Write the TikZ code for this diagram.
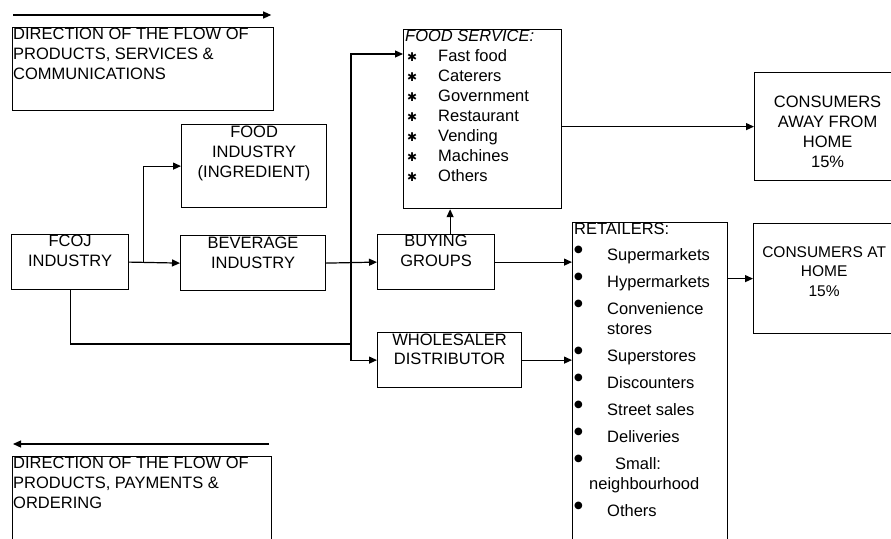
\documentclass[tikz,border=0pt]{standalone}
\usepackage{fontspec}
\setmainfont{Liberation Sans}
\newfontfamily\symfont{DejaVu Sans}
\usetikzlibrary{positioning,arrows.meta}

% list marks for the two outlet boxes
\newcommand{\starbul}{\hspace*{2pt}\makebox[31pt][l]{\raisebox{0.5pt}{\symfont\fontsize{12}{12}\selectfont ✱}}}
\newcommand{\dotbul}{\makebox[33pt][l]{\raisebox{8pt}{\symfont\fontsize{10}{10}\selectfont ●}}}

\begin{document}
\begin{tikzpicture}[x=1pt, y=-1pt,
    stage/.style={draw, line width=1.2pt, anchor=north west, inner sep=0pt},
    txt/.style={inner sep=0pt, align=center, anchor=north,
      font=\fontsize{16.5}{20}\selectfont},
    flow/.style={line width=1.2pt, -{Triangle[length=8pt,width=7pt]}},
    link/.style={line width=1.2pt}]

  \useasboundingbox (0,0) rectangle (891,538);
  \clip (0,0) rectangle (891,538);

  % keys
  \node[stage, minimum width=261pt, minimum height=83pt] (fwdkey) at (12,27) {};
  \node[txt, align=left, anchor=north west] (fwdtxt) at (13,28)
    {DIRECTION OF THE FLOW OF\\PRODUCTS, SERVICES \&\\COMMUNICATIONS};
  \draw[flow] ([yshift=12pt,xshift=1pt]fwdkey.north west)
    -- ([yshift=12pt,xshift=-3pt]fwdkey.north east);

  \node[stage, minimum width=259pt, minimum height=100pt] (backkey) at (12,456) {};
  \node[txt, align=left, anchor=north west] (backtxt) at (13,457)
    {DIRECTION OF THE FLOW OF\\PRODUCTS, PAYMENTS \&\\ORDERING};
  \draw[flow] ([yshift=12pt,xshift=-3pt]backkey.north east)
    -- ([yshift=12pt,xshift=1pt]backkey.north west);

  % processors
  \node[stage, minimum width=117pt, minimum height=55pt] (fcoj) at (11,234) {};
  \node[txt, below=1pt of fcoj.north] (fcojtxt) {FCOJ\\INDUSTRY};

  \node[stage, minimum width=145pt, minimum height=83pt] (foodind) at (181,124) {};
  \node[txt, below=2pt of foodind.north] (foodindtxt) {FOOD\\INDUSTRY\\(INGREDIENT)};

  \node[stage, minimum width=145pt, minimum height=55pt] (beverage) at (180,235) {};
  \node[txt, below=2pt of beverage.north] (beveragetxt) {BEVERAGE\\INDUSTRY};

  \node[stage, minimum width=117pt, minimum height=55pt] (buying) at (377,234) {};
  \node[txt, below=1pt of buying.north] (buyingtxt) {BUYING\\GROUPS};

  \node[stage, minimum width=144pt, minimum height=55pt] (wholesaler) at (377,332) {};
  \node[txt, below=2pt of wholesaler.north, font=\fontsize{16.5}{18.5}\selectfont]
    (wholesalertxt) {WHOLESALER\\DISTRIBUTOR};

  % outlets
  \node[stage, minimum width=158pt, minimum height=179pt] (foodserv) at (403,29) {};
  \node[txt, align=left, anchor=north west] (foodservtxt) at (405,30)
    {{\itshape FOOD SERVICE:}\\
     \starbul Fast food\\
     \starbul Caterers\\
     \starbul Government\\
     \starbul Restaurant\\
     \starbul Vending\\
     \starbul Machines\\
     \starbul Others};

  \node[stage, minimum width=155pt, minimum height=340pt] (retail) at (572,222) {};
  \node[txt, align=left, anchor=north west] (retailtxt) at (574,223)
    {RETAILERS:\\[6pt]
     \dotbul Supermarkets\\[7pt]
     \dotbul Hypermarkets\\[7pt]
     \dotbul Convenience\\
     \hspace*{33pt}stores\\[7pt]
     \dotbul Superstores\\[7pt]
     \dotbul Discounters\\[7pt]
     \dotbul Street sales\\[7pt]
     \dotbul Deliveries\\[7pt]
     \dotbul\hspace*{8pt}Small:\\
     \hspace*{15pt}neighbourhood\\[7pt]
     \dotbul Others};

  % consumers
  \node[stage, minimum width=146pt, minimum height=108pt] (away) at (754,72) {};
  \node[txt, below=24pt of away.north] (awaytxt) {CONSUMERS\\AWAY FROM\\HOME\\15\%};

  \node[stage, minimum width=147pt, minimum height=110pt] (home) at (753,223) {};
  \node[txt, below=23pt of home.north, xshift=-3pt, font=\fontsize{15.5}{19.5}\selectfont]
    (hometxt) {CONSUMERS AT\\HOME\\15\%};

  % flows
  \coordinate[right=14pt of fcoj.east] (fork);
  \coordinate (bus) at (351,344);
  \coordinate[below=25pt of foodserv.north west] (fsin);
  \coordinate[right=14pt of buying.north] (bgtop);

  \draw[flow] (fcoj.east) -- (beverage.west);
  \draw[flow] (fork) |- (foodind.west);
  \draw[link] (fcoj.south) |- (bus);
  \draw[flow] (bus) |- (wholesaler.west);
  \draw[flow] (bus) |- (fsin);
  \draw[flow] (beverage.east) -- (buying.west);
  \draw[flow] (bgtop) -- (bgtop |- foodserv.south);
  \draw[flow] (foodserv.east |- away.west) -- (away.west);
  \draw[flow] (buying.east) -- (buying.east -| retail.west);
  \draw[flow] (wholesaler.east) -- (wholesaler.east -| retail.west);
  \draw[flow] (home.west -| retail.east) -- (home.west);
\end{tikzpicture}
\end{document}
